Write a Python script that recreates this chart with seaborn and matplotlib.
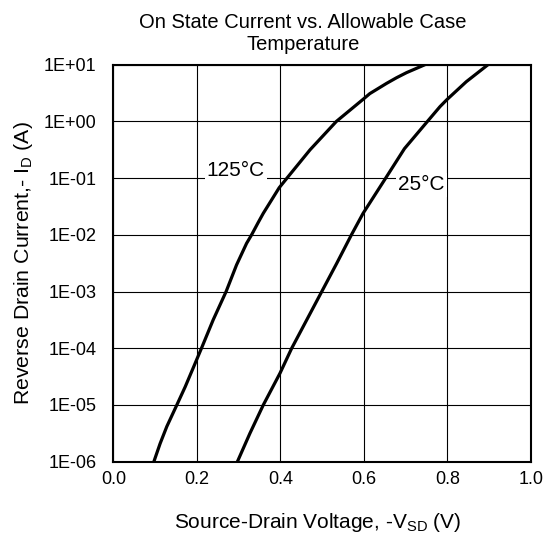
import numpy as np
import pandas as pd
import matplotlib
matplotlib.use("Agg")
import matplotlib.pyplot as plt
import seaborn as sns

# Kurvenwerte, y als log10(I_D)
v_125 = [0.097, 0.112, 0.128, 0.152, 0.172, 0.191, 0.211, 0.239, 0.270, 0.295, 0.319, 0.331,
         0.347, 0.359, 0.397, 0.419, 0.471, 0.534, 0.598, 0.614, 0.654, 0.678, 0.702, 0.746]
logi_125 = [-6.0, -5.68, -5.38, -5.0, -4.68, -4.35, -4.0, -3.5, -3.0, -2.53, -2.15, -2.0,
            -1.78, -1.62, -1.17, -0.97, -0.50, 0.0, 0.39, 0.49, 0.67, 0.77, 0.86, 1.0]
v_25 = [0.297, 0.327, 0.359, 0.399, 0.427, 0.463, 0.499, 0.535, 0.570, 0.598, 0.652,
        0.697, 0.752, 0.782, 0.798, 0.845, 0.897]
logi_25 = [-6.0, -5.5, -5.0, -4.44, -4.0, -3.5, -3.0, -2.5, -2.0, -1.62, -1.0,
           -0.48, 0.0, 0.26, 0.38, 0.70, 1.0]

y_ticks = [1e-6, 1e-5, 1e-4, 1e-3, 1e-2, 1e-1, 1e0, 1e1]
y_ticklabels = ["1E-06", "1E-05", "1E-04", "1E-03", "1E-02", "1E-01", "1E+00", "1E+01"]
x_ticks = [0.0, 0.2, 0.4, 0.6, 0.8, 1.0]

df = pd.concat([
    pd.DataFrame({"V": v_125, "I": np.power(10.0, logi_125), "T": "125°C"}),
    pd.DataFrame({"V": v_25, "I": np.power(10.0, logi_25), "T": "25°C"}),
])

sns.set_theme(style="white")
plt.rcParams['font.family'] = ['Liberation Sans', 'DejaVu Sans']
plt.rcParams['mathtext.fontset'] = 'custom'
plt.rcParams['mathtext.rm'] = 'Liberation Sans'
plt.rcParams['text.color'] = 'black'
plt.rcParams['axes.labelcolor'] = 'black'

fig = plt.figure(figsize=(5.55, 5.36), dpi=100)
ax = fig.add_axes([0.2042, 0.1386, 0.7526, 0.7407])

sns.lineplot(data=df, x="V", y="I", units="T", estimator=None, sort=False,
             color="black", linewidth=2.3, ax=ax)

ax.set_yscale("log")
ax.set_xlim(0, 1.0)
ax.set_ylim(1e-6, 1e1)
ax.set_yticks(y_ticks)
ax.set_yticklabels(y_ticklabels)
ax.minorticks_off()
ax.set_xticks(x_ticks)
ax.set_xticklabels([f"{x:.1f}" for x in x_ticks])
ax.tick_params(axis="both", length=0, labelsize=13, colors="black", labelcolor="black")
ax.tick_params(axis="y", pad=12)
ax.tick_params(axis="x", pad=7)
ax.grid(True, color="black", linewidth=0.8)
for s in ax.spines.values():
    s.set_color("black")
    s.set_linewidth(1.5)

ax.set_xlabel(r"Source-Drain Voltage, -V$_\mathregular{SD}$ (V)", fontsize=15, color="black")
ax.set_ylabel(r"Reverse Drain Current,- I$_\mathregular{D}$ (A)", fontsize=15.3, color="black")
ax.xaxis.label.set_va("center")
ax.xaxis.set_label_coords(0.49, -0.152)
ax.yaxis.label.set_va("center")
ax.yaxis.set_label_coords(-0.216, 0.5)

box = dict(facecolor="white", edgecolor="none", pad=1.5)
ax.text(0.293, 10**-0.87, "125°C", fontsize=15, ha="center", va="center", color="black", bbox=box)
ax.text(0.738, 10**-1.12, "25°C", fontsize=15, ha="center", va="center", color="black", bbox=box)

fig.text(303 / 555, 1 - 34 / 536, "On State Current vs. Allowable Case\nTemperature",
         fontsize=14.5, ha="center", va="center", linespacing=1.2, color="black")

fig.savefig("out.png", dpi=100, facecolor="white")
